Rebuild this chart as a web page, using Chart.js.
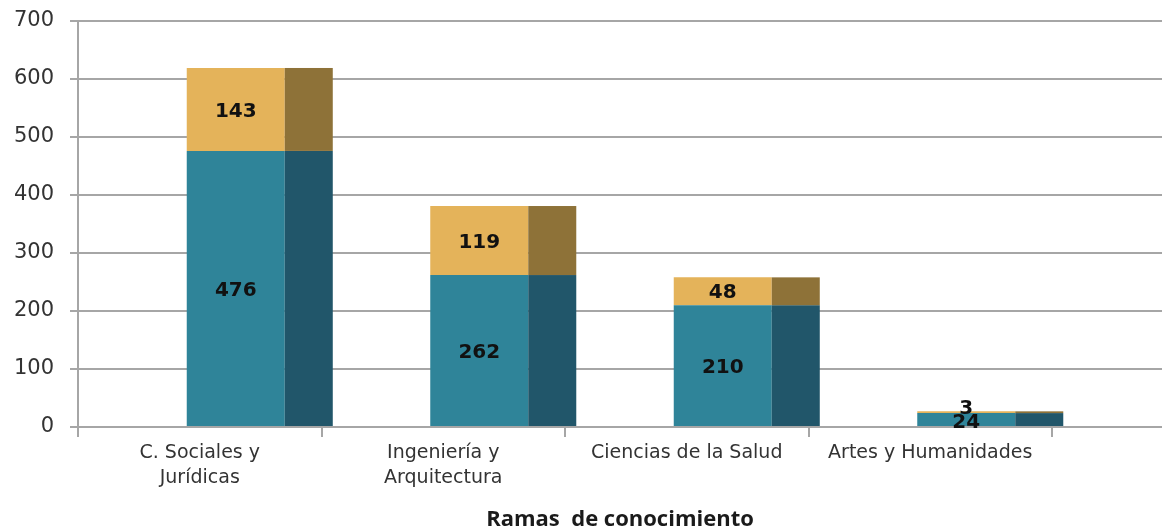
<!DOCTYPE html>
<html>
<head>
<meta charset="utf-8">
<script src="https://cdn.jsdelivr.net/npm/chart.js@4/dist/chart.umd.min.js"></script>
<style>
html,body{margin:0;padding:0;background:#fff;}
#wrap{width:1162px;height:532px;position:relative;}
</style>
</head>
<body>
<div id="wrap"><canvas id="c" width="1162" height="532"></canvas></div>
<script>
const categories = [["C. Sociales y","Jurídicas"], ["Ingeniería y","Arquitectura"], "Ciencias de la Salud", "Artes y Humanidades"];
const seriesLower = [476, 262, 210, 24];
const seriesUpper = [143, 119, 48, 3];
const yTicks = [0, 100, 200, 300, 400, 500, 600, 700];
const axisTitle = "Ramas  de conocimiento";

const frontColors = ['#2F8499', '#E4B35A'];
const sideColors = ['#21566A', '#8E7238'];
const gridColor = '#A6A6A6';
const SHIFT = 36;

const depthPlugin = {
  id: 'depth',
  beforeDraw(chart) {
    const ctx = chart.ctx, ys = chart.scales.y, a = chart.chartArea;
    ctx.save();
    ctx.strokeStyle = gridColor;
    ctx.lineWidth = 2;
    yTicks.forEach(v => {
      const py = Math.round(ys.getPixelForValue(v));
      ctx.beginPath();
      ctx.moveTo(a.right - 1, py);
      ctx.lineTo(chart.width, py);
      ctx.stroke();
    });
    ctx.restore();
  },
  beforeDatasetsDraw(chart) {
    chart.ctx.save();
    chart.ctx.translate(SHIFT, 0);
  },
  afterDatasetsDraw(chart) {
    const ctx = chart.ctx;
    chart.data.datasets.forEach((ds, di) => {
      const meta = chart.getDatasetMeta(di);
      meta.data.forEach(bar => {
        const w = bar.width;
        const left = bar.x + w / 2;
        const top = Math.min(bar.y, bar.base);
        const h = Math.abs(bar.base - bar.y);
        ctx.fillStyle = sideColors[di];
        ctx.fillRect(left, top, w * 0.49, h);
      });
    });
    ctx.font = 'bold 20px "DejaVu Sans"';
    ctx.fillStyle = '#111';
    ctx.textAlign = 'center';
    ctx.textBaseline = 'middle';
    chart.data.datasets.forEach((ds, di) => {
      const meta = chart.getDatasetMeta(di);
      meta.data.forEach((bar, i) => {
        let cy = (bar.y + bar.base) / 2 + 2;
        if (i === 3 && di === 1) cy -= 5;
        if (i === 3 && di === 0) cy += 1;
        ctx.fillText(String(ds.data[i]), bar.x, cy);
      });
    });
    ctx.restore();
  },
  afterDraw(chart) {
    const ctx = chart.ctx;
    ctx.save();
    ctx.font = 'bold 22px "Open Sans"';
    ctx.fillStyle = '#1a1a1a';
    ctx.textAlign = 'center';
    ctx.textBaseline = 'middle';
    ctx.fillText(axisTitle, (chart.chartArea.left + chart.width) / 2, 520);
    ctx.restore();
  }
};

new Chart(document.getElementById('c'), {
  type: 'bar',
  data: {
    labels: categories,
    datasets: [
      { label: 'A', data: seriesLower, backgroundColor: frontColors[0], borderWidth: 0 },
      { label: 'B', data: seriesUpper, backgroundColor: frontColors[1], borderWidth: 0 }
    ]
  },
  options: {
    responsive: false,
    animation: false,
    devicePixelRatio: 1,
    layout: { padding: { top: 21, right: 110, left: 0, bottom: 0 } },
    plugins: { legend: { display: false }, tooltip: { enabled: false } },
    datasets: { bar: { categoryPercentage: 1, barPercentage: 98 / 243.5 } },
    scales: {
      x: {
        stacked: true,
        offset: true,
        grid: { offset: true, drawOnChartArea: false, drawTicks: true, tickLength: 10, color: gridColor, lineWidth: 2 },
        border: { display: true, color: gridColor, width: 2 },
        ticks: { color: '#333', font: { family: '"DejaVu Sans"', size: 19, lineHeight: 1.35 }, padding: 3, maxRotation: 0, autoSkip: false },
        afterFit(s) { s.height = 105; s.paddingLeft = 0; s.paddingRight = 0; }
      },
      y: {
        stacked: true,
        min: 0, max: 700,
        afterBuildTicks(s) { s.ticks = yTicks.map(v => ({ value: v })); },
        grid: { color: gridColor, lineWidth: 2, tickLength: 8 },
        border: { display: true, color: gridColor, width: 2 },
        ticks: { color: '#333', font: { family: '"DejaVu Sans"', size: 21 }, padding: 16 },
        afterFit(s) { s.width = 78; s.paddingTop = 0; s.paddingBottom = 0; }
      }
    }
  },
  plugins: [depthPlugin]
});
</script>
</body>
</html>
